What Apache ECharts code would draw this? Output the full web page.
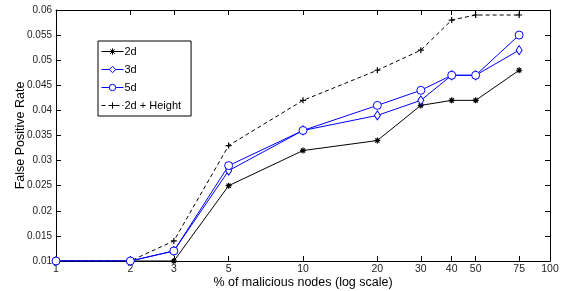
<!DOCTYPE html>
<html>
<head>
<meta charset="utf-8">
<script src="https://cdn.jsdelivr.net/npm/echarts@6/dist/echarts.min.js"></script>
<style>
  html, body { margin: 0; padding: 0; background: #fff; }
  #chart { width: 563px; height: 291px; }
</style>
</head>
<body>
<div id="chart"></div>
<script>
const nodes = [1, 2, 3, 5, 10, 20, 30, 40, 50, 75]
const xTicks = [1, 2, 3, 5, 10, 20, 30, 40, 50, 75, 100]
const rate2d = [0.01, 0.01, 0.01, 0.025, 0.032, 0.034, 0.041, 0.042, 0.042, 0.048]
const rate3d = [0.01, 0.01, 0.012, 0.028, 0.036, 0.039, 0.042, 0.047, 0.047, 0.052]
const rate5d = [0.01, 0.01, 0.012, 0.029, 0.036, 0.041, 0.044, 0.047, 0.047, 0.055]
const rateHeight = [0.01, 0.01, 0.014, 0.033, 0.042, 0.048, 0.052, 0.058, 0.059, 0.059]

const asterisk = 'path://M0,5L10,5M5,0L5,10M1.5,1.5L8.5,8.5M8.5,1.5L1.5,8.5'
const plus = 'path://M0,5L10,5M5,0L5,10'
const font = 'Liberation Sans, Arial, sans-serif'

const pairs = (ys) => nodes.map((x, i) => [x, ys[i]])

const chart = echarts.init(document.getElementById('chart'))

const xBase = {
  type: 'log',
  logBase: 10,
  min: 1,
  max: 100,
  axisLine: { lineStyle: { color: '#000', width: 1 } },
  axisTick: { inside: true, length: 5, customValues: xTicks, lineStyle: { color: '#000' } },
  splitLine: { show: false },
  minorTick: { show: false },
}
const yBase = {
  type: 'value',
  min: 0.01,
  max: 0.06,
  interval: 0.005,
  axisLine: { show: true, lineStyle: { color: '#000', width: 1 } },
  axisTick: { show: true, inside: true, length: 5, lineStyle: { color: '#000' } },
  splitLine: { show: false },
}

chart.setOption({
  animation: false,
  textStyle: { fontFamily: font },
  grid: { left: 56, right: 13, top: 10, bottom: 30, outerBoundsMode: 'none' },
  legend: {
    orient: 'vertical',
    left: 98,
    top: 41,
    width: 90,
    padding: [5, 10, 5, 3],
    itemGap: 7,
    itemWidth: 22,
    itemHeight: 8,
    backgroundColor: '#fff',
    borderColor: '#000',
    borderWidth: 1,
    lineStyle: { width: 1 },
    itemStyle: { borderWidth: 1 },
    textStyle: { fontSize: 11, color: '#000', padding: [0, 0, 0, -4] },
    data: ['2d', '3d', '5d', '2d + Height'],
  },
  xAxis: [
    {
      ...xBase,
      position: 'bottom',
      name: '% of malicious nodes (log scale)',
      nameLocation: 'middle',
      nameGap: 15,
      nameMoveOverlap: false,
      nameTextStyle: { fontSize: 12.5, color: '#000' },
      axisLabel: { customValues: xTicks, fontSize: 10.5, color: '#222', margin: 3 },
    },
    { ...xBase, position: 'top', axisLabel: { show: false } },
  ],
  yAxis: [
    {
      ...yBase,
      position: 'left',
      name: 'False Positive Rate',
      nameLocation: 'middle',
      nameGap: 29,
      nameMoveOverlap: false,
      nameTextStyle: { fontSize: 12.5, color: '#000' },
      axisLabel: { fontSize: 10, color: '#222', margin: 4 },
    },
    { ...yBase, position: 'right', axisLabel: { show: false } },
  ],
  series: [
    {
      name: '2d',
      type: 'line',
      data: pairs(rate2d),
      symbol: asterisk,
      symbolSize: 6,
      lineStyle: { color: '#000', width: 1 },
      itemStyle: { color: '#000', borderColor: '#000', borderWidth: 1.2 },
      z: 3,
    },
    {
      name: '3d',
      type: 'line',
      data: pairs(rate3d),
      symbol: 'diamond',
      symbolSize: [6, 9],
      lineStyle: { color: '#0000ff', width: 1 },
      itemStyle: { color: '#fff', borderColor: '#0000ff', borderWidth: 1 },
      z: 4,
    },
    {
      name: '5d',
      type: 'line',
      data: pairs(rate5d),
      symbol: 'circle',
      symbolSize: 8,
      lineStyle: { color: '#0000ff', width: 1 },
      itemStyle: { color: '#fff', borderColor: '#0000ff', borderWidth: 1 },
      z: 4,
    },
    {
      name: '2d + Height',
      type: 'line',
      data: pairs(rateHeight),
      symbol: plus,
      symbolSize: 6,
      lineStyle: { color: '#000', width: 1, type: [4, 3] },
      itemStyle: { color: '#000', borderColor: '#000', borderWidth: 1.2 },
      z: 2,
    },
  ],
})
</script>
</body>
</html>
